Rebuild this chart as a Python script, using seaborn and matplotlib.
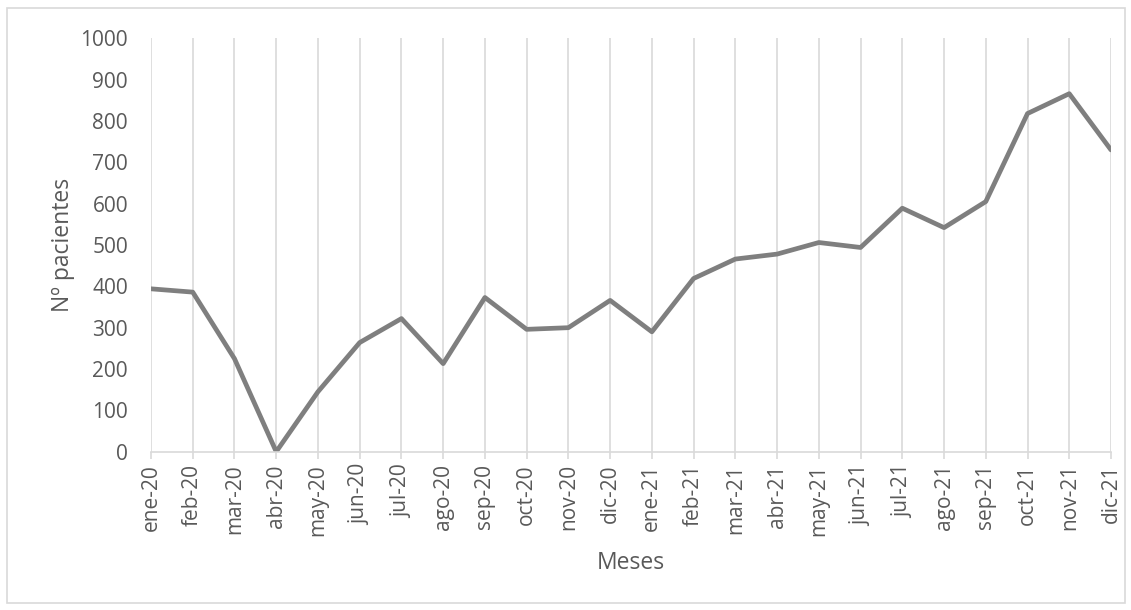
import matplotlib
matplotlib.use("Agg")
import matplotlib.pyplot as plt
from matplotlib.patches import Rectangle
import seaborn as sns
import pandas as pd

months = ["ene-20", "feb-20", "mar-20", "abr-20", "may-20", "jun-20",
          "jul-20", "ago-20", "sep-20", "oct-20", "nov-20", "dic-20",
          "ene-21", "feb-21", "mar-21", "abr-21", "may-21", "jun-21",
          "jul-21", "ago-21", "sep-21", "oct-21", "nov-21", "dic-21"]
patients = [394, 386, 225, 0, 145, 264,
            322, 213, 373, 296, 300, 366,
            290, 419, 466, 478, 506, 494,
            589, 542, 605, 818, 866, 730]

df = pd.DataFrame({"Meses": months, "Nº pacientes": patients})

sns.set_theme(style="white")
plt.rcParams["font.family"] = ["Open Sans", "DejaVu Sans"]

text_color = "#595959"
grid_color = "#d9d9d9"

fig = plt.figure(figsize=(11.31, 6.10), dpi=100)
ax = fig.add_axes([151 / 1131, (610 - 451.7) / 610, 960 / 1131, 413.4 / 610])

sns.lineplot(data=df, x="Meses", y="Nº pacientes", sort=False,
             color="#7f7f7f", linewidth=3.4, ax=ax)

ax.set_xlim(0, len(months) - 1)
ax.set_ylim(0, 1000)
ax.set_yticks(range(0, 1001, 100))
ax.set_xticks(range(len(months)))
ax.set_xticklabels(months, rotation=90)

for side in ["top", "right", "left"]:
    ax.spines[side].set_visible(False)
ax.spines["bottom"].set_color(grid_color)
ax.spines["bottom"].set_linewidth(1.2)

ax.xaxis.grid(True, color=grid_color, linewidth=1.2)
ax.yaxis.grid(False)
ax.set_axisbelow(True)

ax.tick_params(axis="x", which="major", length=5, width=1.2, color=grid_color,
               labelsize=15, labelcolor=text_color, pad=4, bottom=True)
ax.tick_params(axis="y", length=0, labelsize=15, labelcolor=text_color, pad=16.5)

ax.set_xlabel("Meses", fontsize=16.5, color=text_color)
ax.set_ylabel("Nº pacientes", fontsize=16.5, color=text_color)
ax.xaxis.set_label_coords(0.5, -0.240)
ax.yaxis.set_label_coords(-0.079, 0.5)

fig.patches.append(Rectangle((6.5 / 1131, 1 - 603 / 610), 1118 / 1131, 595 / 610,
                             transform=fig.transFigure, fill=False,
                             edgecolor=grid_color, linewidth=1.2))

fig.savefig("out.png", dpi=100, facecolor="white")
